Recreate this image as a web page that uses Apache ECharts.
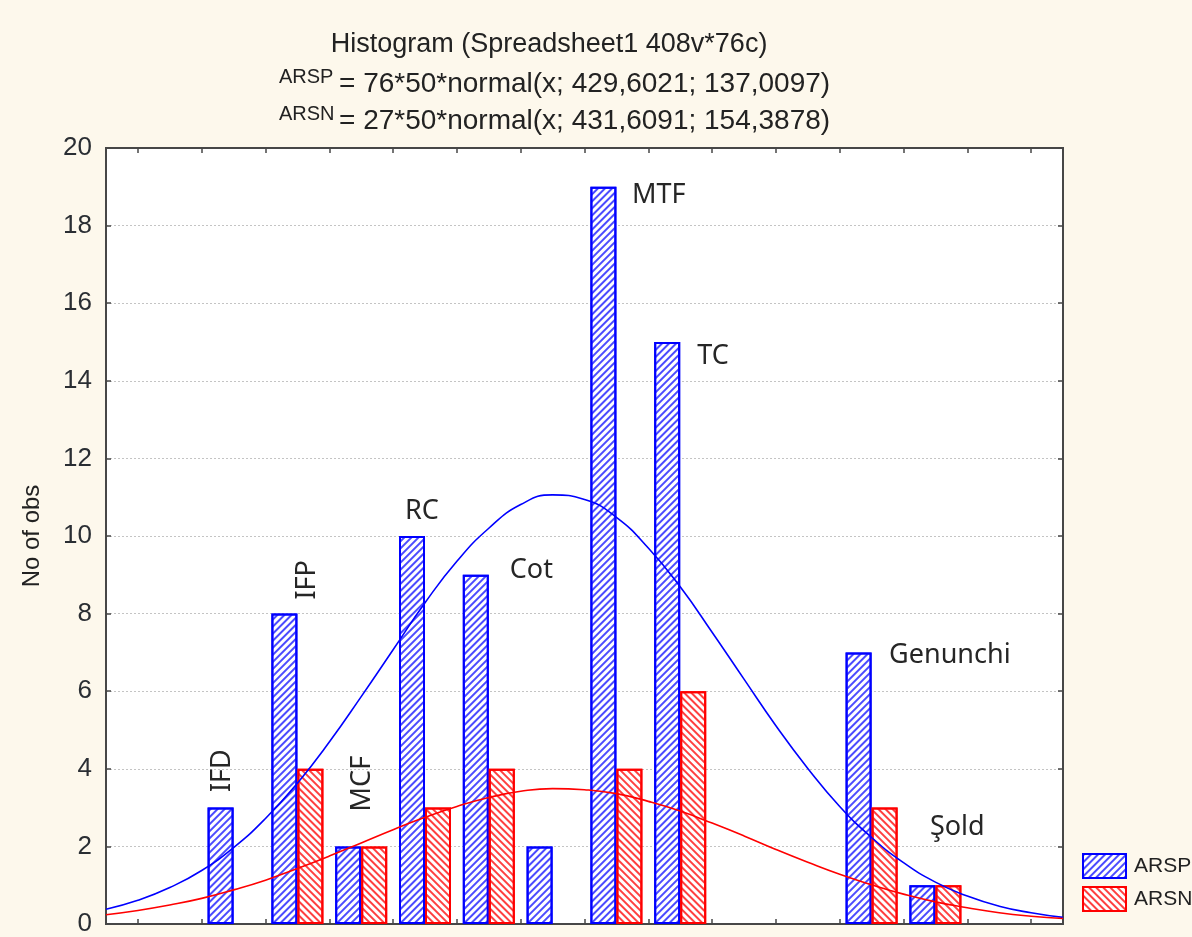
<!DOCTYPE html>
<html>
<head>
<meta charset="utf-8">
<script src="https://cdn.jsdelivr.net/npm/echarts@6/dist/echarts.min.js"></script>
<style>
html,body{margin:0;padding:0;background:#fdf8ec;}
#chart{width:1192px;height:937px;}
</style>
</head>
<body>
<div id="chart"></div>
<script>
// ---- data ----
const binCenters = [125, 175, 225, 275, 325, 375, 425, 475, 525, 575, 625, 675, 725, 775];
const arspCounts = [0, 3, 8, 2, 10, 9, 2, 19, 15, 0, 0, 7, 1, 0];
const arsnCounts = [0, 0, 4, 2, 3, 4, 0, 4, 6, 0, 0, 3, 1, 0];
const binNames  = ['', 'IFD', 'IFP', 'MCF', 'RC', 'Cot', '', 'MTF', 'TC', '', '', 'Genunchi', 'Şold', ''];
const curveX = [75, 100, 125, 150, 175, 200, 225, 250, 275, 300, 325, 350, 375, 400, 425, 450, 475, 500, 525, 550, 575, 600, 625, 650, 675, 700, 725, 750, 775, 800, 825];
const arspCurve = [0.38, 0.61, 0.94, 1.38, 1.97, 2.72, 3.63, 4.69, 5.86, 7.07, 8.28, 9.35, 10.2, 10.81, 11.06, 10.94, 10.48, 9.69, 8.69, 7.52, 6.31, 5.11, 4.01, 3.03, 2.23, 1.58, 1.08, 0.72, 0.46, 0.29, 0.17];
const arsnCurve = [0.24, 0.35, 0.49, 0.66, 0.88, 1.13, 1.43, 1.75, 2.09, 2.43, 2.75, 3.03, 3.26, 3.42, 3.49, 3.46, 3.36, 3.16, 2.91, 2.6, 2.27, 1.92, 1.59, 1.28, 1.01, 0.77, 0.57, 0.42, 0.29, 0.2, 0.14];
const yTicks = [0, 2, 4, 6, 8, 10, 12, 14, 16, 18, 20];
const titleText = 'Histogram (Spreadsheet1 408v*76c)';
const eqNames = ['ARSP', 'ARSN'];
const eqTexts = ['= 76*50*normal(x; 429,6021; 137,0097)', '= 27*50*normal(x; 431,6091; 154,3878)'];
const yName = 'No of obs';

// ---- label placement (style) ----
const labelPlace = {
  'IFD':      {rotate: 90, position: [14.5, -15.5]},
  'IFP':      {rotate: 90, position: [35.5, -14]},
  'MCF':      {rotate: 90, position: [27.3, -35]},
  'RC':       {rotate: 0, position: [6, -24.5]},
  'Cot':      {rotate: 0, position: [47, -4.5]},
  'MTF':      {rotate: 0, position: [41.5, 9]},
  'TC':       {rotate: 0, position: [43, 14]},
  'Genunchi': {rotate: 0, position: [43.5, 3]},
  'Şold':     {rotate: 0, position: [20.5, -58]}
};

const BLUE = '#0000ff', RED = '#ff0000';
const AX = '#474747';
const tickFont = 'Liberation Sans, Arial, sans-serif';

function barData(counts, withLabels) {
  const out = [];
  counts.forEach((c, i) => {
    if (!c) return;
    const item = {value: [binCenters[i], c]};
    const nm = binNames[i];
    if (withLabels && nm && labelPlace[nm]) {
      const p = labelPlace[nm];
      item.label = {
        show: true, formatter: nm, rotate: p.rotate, position: p.position,
        align: 'left', verticalAlign: 'middle',
        fontFamily: 'Noto Sans, Open Sans, sans-serif', fontSize: 27, color: '#262626'
      };
    }
    out.push(item);
  });
  return out;
}

const chart = echarts.init(document.getElementById('chart'), null, {renderer: 'canvas'});

const titles = [
  {text: titleText, left: 544, top: 26, textAlign: 'center',
   textStyle: {fontFamily: tickFont, fontSize: 27, fontWeight: 'normal', color: '#222'}}
];
eqNames.forEach((n, i) => {
  titles.push({text: n, left: 274, top: 62 + i * 37,
    textStyle: {fontFamily: tickFont, fontSize: 20, fontWeight: 'normal', color: '#222'}});
  titles.push({text: eqTexts[i], left: 334, top: 65 + i * 37,
    textStyle: {fontFamily: tickFont, fontSize: 28, fontWeight: 'normal', color: '#222'}});
});

const option = {
  animation: false,
  backgroundColor: '#fdf8ec',
  title: titles,
  legend: {
    data: ['ARSP', 'ARSN'], orient: 'vertical', left: 1077, top: 848,
    itemWidth: 43, itemHeight: 24, itemGap: 7, icon: 'rect',
    textStyle: {fontFamily: tickFont, fontSize: 21, color: '#222', padding: [0, 0, 0, 3]}
  },
  grid: {left: 106, right: 129, top: 148, bottom: 12, show: true,
         backgroundColor: '#ffffff', borderColor: AX, borderWidth: 2, containLabel: false},
  xAxis: [
    {type: 'value', min: 75, max: 825, splitNumber: 15, position: 'bottom',
     axisLine: {show: true, onZero: false, lineStyle: {color: AX, width: 2}},
     axisTick: {show: true, inside: true, length: 5, lineStyle: {color: AX, width: 1.5}},
     axisLabel: {show: false}, splitLine: {show: false}},
    {type: 'value', min: 75, max: 825, splitNumber: 15, position: 'top',
     axisLine: {show: true, onZero: false, lineStyle: {color: AX, width: 2}},
     axisTick: {show: true, inside: true, length: 5, lineStyle: {color: AX, width: 1.5}},
     axisLabel: {show: false}, splitLine: {show: false}}
  ],
  yAxis: [
    {type: 'value', min: yTicks[0], max: yTicks[yTicks.length - 1], interval: yTicks[1] - yTicks[0],
     position: 'left', name: yName, nameLocation: 'middle', nameGap: 62, nameRotate: 90,
     nameTextStyle: {fontFamily: tickFont, fontSize: 24, color: '#222'},
     axisLine: {show: true, lineStyle: {color: AX, width: 2}},
     axisTick: {show: true, inside: true, length: 5, lineStyle: {color: AX, width: 1.5}},
     axisLabel: {fontFamily: tickFont, fontSize: 26, color: '#2a2e33', margin: 14},
     splitLine: {show: true, lineStyle: {color: '#c4c4c4', type: [2, 2], width: 1}}},
    {type: 'value', min: yTicks[0], max: yTicks[yTicks.length - 1], interval: yTicks[1] - yTicks[0],
     position: 'right',
     axisLine: {show: true, lineStyle: {color: AX, width: 2}},
     axisTick: {show: true, inside: true, length: 5, lineStyle: {color: AX, width: 1.5}},
     axisLabel: {show: false}, splitLine: {show: false}}
  ],
  series: [
    {name: 'ARSP', type: 'bar', xAxisIndex: 0, yAxisIndex: 0, barWidth: 26, barGap: '0%',
     data: barData(arspCounts, true),
     itemStyle: {color: '#ffffff', borderColor: BLUE, borderWidth: 2,
       decal: {symbol: 'rect', symbolSize: 1, color: 'rgba(30,30,255,0.8)',
               dashArrayX: [1, 0], dashArrayY: [2, 3], rotation: -Math.PI / 4}},
     z: 2},
    {name: 'ARSN', type: 'bar', xAxisIndex: 0, yAxisIndex: 0, barWidth: 26, barGap: '0%',
     data: barData(arsnCounts, false),
     itemStyle: {color: '#ffffff', borderColor: RED, borderWidth: 2,
       decal: {symbol: 'rect', symbolSize: 1, color: 'rgba(255,30,30,0.85)',
               dashArrayX: [1, 0], dashArrayY: [2, 2.5], rotation: Math.PI / 4}},
     z: 2},
    {name: 'ARSP normal', type: 'line', xAxisIndex: 0, yAxisIndex: 0, smooth: true,
     showSymbol: false, symbol: 'none', silent: true,
     data: curveX.map((x, i) => [x, arspCurve[i]]),
     lineStyle: {color: BLUE, width: 1.6}, z: 5},
    {name: 'ARSN normal', type: 'line', xAxisIndex: 0, yAxisIndex: 0, smooth: true,
     showSymbol: false, symbol: 'none', silent: true,
     data: curveX.map((x, i) => [x, arsnCurve[i]]),
     lineStyle: {color: RED, width: 1.6}, z: 5}
  ]
};
chart.setOption(option);
</script>
</body>
</html>
